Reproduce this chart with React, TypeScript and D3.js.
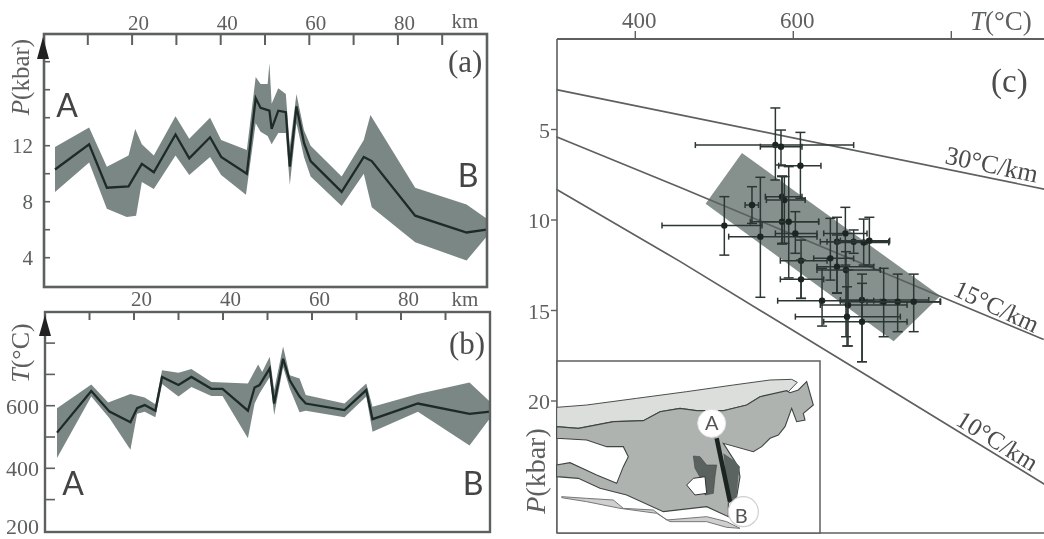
import React from "react";
import * as d3 from "d3";

// Panel (a) pressure profile
const aLineKm = [2.6,10.3,14.3,19.2,22.2,24.9,29.8,32.9,37.6,40.1,45.9,47.9,49.0,51.0,51.5,53.0,54.7,55.6,57.1,58.8,60.3,67.3,72.3,74.1,83.9,95.5,100];
const aLineP = [10.3,12.1,9.0,9.1,10.7,10.1,12.8,11.1,12.6,11.2,10.0,15.4,14.7,14.5,13.2,14.5,14.4,10.5,14.8,12.2,10.9,8.7,11.2,10.9,7.0,5.8,6.0];
const aUpKm = [2.6,10.3,14.3,19.2,20.7,22.2,24.9,29.8,32.9,37.6,40.1,45.9,47.9,49.0,50.6,51.0,51.5,53.0,54.7,55.6,57.1,58.8,60.3,67.3,72.3,73.8,83.9,95.5,100];
const aUpP = [11.9,13.3,10.5,11.3,13.2,12.1,11.3,14.1,12.5,14.0,12.4,11.7,16.9,16.4,16.4,17.9,15.0,16.1,15.7,11.9,15.7,13.1,12.0,9.8,12.4,14.2,9.0,7.8,6.8];
const aLoKm = [2.6,10.3,14.3,18.8,20.9,22.2,24.9,29.8,32.9,37.6,40.1,45.7,47.9,49.0,50.6,51.5,53.0,54.7,55.6,57.1,58.8,60.3,67.3,72.3,74.1,83.9,95.5,100];
const aLoP = [8.7,10.8,7.5,6.9,7.0,9.4,8.9,11.3,9.9,11.2,9.9,8.5,13.6,13.0,12.7,12.1,12.9,12.9,9.2,13.6,11.2,9.8,7.7,10.0,7.6,5.1,3.8,5.5];

// Panel (b) temperature profile
const bLineKm = [2.7,10.4,14.5,19.2,20.7,22.4,24.8,26.3,30.0,32.9,37.4,39.9,45.6,47.1,48.2,50.5,51.5,53.5,55.0,57.2,58.6,67.3,72.2,73.6,83.8,95.4,100];
const bLineT = [514,647,581,547,592,602,584,692,666,692,654,654,584,658,666,719,607,750,681,629,607,586,650,557,607,574,581];
const bUpKm = [2.7,10.4,14.2,19.2,22.4,24.8,26.3,30,32.9,37.4,45.6,47.9,48.8,50.5,51.5,53.5,55,57.2,58.6,67.3,72.2,73.6,83.8,95.4,100];
const bUpT = [592,668,610,637,626,605,713,705,717,676,671,732,708,756,650,789,697,687,634,607,671,597,637,674,613];
const bLoKm = [2.7,10.4,14.5,19.2,20.7,22.4,24.8,26.3,30,32.9,37.4,39.9,45.6,47.1,48.2,50.5,51.5,53.5,55,57.2,58.6,67.3,72.2,73.6,83.8,95.4,100];
const bLoT = [433,629,560,459,574,581,563,669,629,660,631,631,496,607,639,692,570,724,655,579,584,563,629,517,581,473,560];

// Panel (c) P-T estimates
const pT = [577.3,584.4,609,585.7,588.7,547.7,512.7,558.3,585.7,594.2,602.6,609.8,609.8,636.4,646.9,655.3,665.9,676.4,689.1,696.3,655.3,666.7,669.3,668,687,687,714.4,732.1,752.4];
const pTlo = [476,558.3,581.5,564.6,565.9,539,433.8,518.2,545.6,558.3,577.3,583.6,583.6,580.2,625.8,634.2,638.5,642.7,655.3,659.6,630,630,634.2,602.6,659.6,638.5,659.6,693.3,710.2];
const pThi = [676.4,611,635,611,615,556,560.4,630,632.1,632.1,630,642.7,638.5,701.8,676.4,693.3,693.3,720.8,720.8,722,701.8,710.2,744,735.5,771.4,744,786.2,786.2,786.2];
const pP = [5.86,5.95,7.0,8.71,8.9,9.17,10.31,10.92,10.09,10.09,10.74,12.25,13.28,14.46,12.12,11.2,10.74,11.2,11.24,11.14,12.58,12.76,14.7,15.34,14.42,15.62,14.51,14.51,14.51];
const pPlo = [3.81,5.03,5.16,7.57,7.6,8.16,8.71,7.64,7.6,7.05,9.54,11.11,12.21,12.67,9.91,9.85,9.3,10.55,9.95,9.85,10.83,11.75,12.76,13.69,12.99,13.5,12.67,12.99,12.99];
const pPhi = [7.79,6.96,8.8,11.33,11.29,10.19,11.94,14.27,11.29,13.2,11.84,14.33,14.33,15.86,13.32,14.02,12.49,11.84,12.49,12.49,14.05,16.45,16.96,16.96,17.83,17.83,16.45,16.17,16.17];

const bandT = [535,489,727,786];
const bandP = [6.3,9.1,16.7,14.2];
const geo30T = [300,918];
const geo30P = [2.8,8.3];
const geo15T = [300,457,785,917];
const geo15P = [5.4,8.2,14.2,16.6];
const geo10T = [300,457,701,918];
const geo10P = [8.3,12.3,18.8,24.6];

// Inset map outlines, in map units
const mapStrip: [number, number][] = [[110,172],[200,165],[350,145],[500,125],[640,105],[750,90],[815,88],[832,97],[805,125],[720,140],[680,165],[610,182],[530,182],[480,175],[420,185],[370,212],[280,215],[175,235],[110,230]];
const mapMain: [number, number][] = [[110,230],[175,235],[280,215],[370,212],[420,185],[480,175],[530,182],[610,182],[680,165],[720,140],[800,122],[810,128],[835,120],[860,95],[880,165],[850,190],[855,210],[830,215],[815,175],[795,230],[775,255],[750,265],[725,290],[700,305],[610,280],[655,350],[660,380],[650,440],[625,460],[625,500],[560,470],[430,485],[320,435],[240,415],[175,385],[110,380],[110,345],[150,338],[230,375],[290,400],[310,350],[325,320],[310,290],[260,290],[200,270],[110,265]];
const mapHole: [number, number][] = [[500,405],[520,385],[555,380],[560,430],[525,435]];
const mapDark1: [number, number][] = [[520,318],[540,320],[560,345],[590,345],[585,380],[580,430],[555,435],[545,390],[525,355]];
const mapDark2: [number, number][] = [[610,310],[640,330],[660,350],[655,380],[650,440],[625,455]];
const mapTrace: [number, number][] = [[590,265],[630,455]];
const mapCoast: [number, number][] = [[125,440],[200,445],[280,450],[310,475],[400,480],[440,510],[560,500],[620,515],[660,535],[620,532],[560,515],[450,515],[410,490],[300,475],[200,455],[125,443]];
const mapA: [number, number] = [575,220];
const mapB: [number, number] = [670,485];

const kmTicks = d3.range(10, 100, 10);
const kmLabels = [20,40,60,80];
const aTicks = d3.range(4, 20, 2);
const aLabels = [4,8,12];
const bTicks = d3.range(300, 900, 100);
const bLabels = [200,400,600];
const cTempLabels = [400,600];
const cTempTicks = [400,600,800];
const cPLabels = [5,10,15,20];

const INK = "#5c605f";
const BAND = "#7b8784";
const DARK = "#1d2a28";
const SERIF = "'Liberation Serif', serif";
const SANS = "Lato, 'Open Sans', sans-serif";

const xA = d3.scaleLinear().domain([0,100]).range([43.5,486.5]);
const yA = d3.scaleLinear().domain([12,8]).range([145.7,201.7]);
const xB = d3.scaleLinear().domain([0,100]).range([45,490]);
const yB = d3.scaleLinear().domain([600,400]).range([405.7,468.3]);
const xC = d3.scaleLinear().domain([400,600]).range([635.3,793.3]);
const yC = d3.scaleLinear().domain([5,10]).range([129.5,220]);
const xM = d3.scaleLinear().domain([0,930]).range([520,830]);
const yM = d3.scaleLinear().domain([0,567]).range([350,539]);

const zip = (a: number[], b: number[]) => a.map((v, i) => [v, b[i]] as [number, number]);
const bandPath = (kmU: number[], u: number[], kmL: number[], l: number[], x: any, y: any) =>
  d3.line()(zip(kmU, u).concat(zip(kmL, l).reverse()).map(([k, v]) => [x(k), y(v)] as [number, number])) + "Z";
const linePath = (a: number[], b: number[], x: any, y: any) =>
  d3.line()(zip(a, b).map(([k, v]) => [x(k), y(v)] as [number, number])) || "";
const mapPath = (pts: [number, number][], close = true) =>
  (d3.line()(pts.map(([a, b]) => [xM(a), yM(b)] as [number, number])) || "") + (close ? "Z" : "");

const Txt = (p: any) => <text fontFamily={SERIF} fill={INK} {...p} />;

export default function App() {
  const A = { l: 44, t: 34, r: 487, b: 287 };
  const B = { l: 45, t: 312, r: 490, b: 532 };
  const C = { l: 557, t: 39, r: 1044, b: 533 };
  const I = { r: 820, t: 361 };
  return (
    <svg width={1044} height={539} style={{ position: "absolute", left: 0, top: 0, background: "#fff", filter: "blur(0.5px)" }}>
      {/* panel a */}
      <path d={bandPath(aUpKm, aUpP, aLoKm, aLoP, xA, yA)} fill={BAND} />
      <path d={linePath(aLineKm, aLineP, xA, yA)} fill="none" stroke={DARK} strokeWidth={2.3} />
      <rect x={A.l} y={A.t} width={A.r - A.l} height={A.b - A.t} fill="none" stroke={INK} strokeWidth={2.6} />
      {kmTicks.map(k => <line key={k} x1={xA(k)} x2={xA(k)} y1={A.t} y2={A.t + 11} stroke={INK} strokeWidth={2} />)}
      {aTicks.map(v => <line key={v} x1={A.l} x2={A.l + 6} y1={yA(v)} y2={yA(v)} stroke={INK} strokeWidth={1.6} />)}
      {kmLabels.map(k => <Txt key={k} x={xA(k) + 6.5} y={30} fontSize={21} textAnchor="middle">{k}</Txt>)}
      <Txt x={465} y={27.5} fontSize={21} textAnchor="middle">km</Txt>
      {aLabels.map(v => <Txt key={v} x={33} y={yA(v) + 7} fontSize={21} textAnchor="end">{v}</Txt>)}
      <path d={d3.line()([[43,37],[49,59],[37,59]]) + "Z"} fill="#222" />
      <Txt transform="translate(29,77) rotate(-90)" fontSize={25} textAnchor="middle"><tspan fontStyle="italic">P</tspan>(kbar)</Txt>
      <Txt x={448} y={72} fontSize={31} fill="#4a4d4c">(a)</Txt>
      <text x={67} y={117} fontFamily={SANS} fontSize={32} fill="#444" textAnchor="middle">A</text>
      <text x={468} y={187} fontFamily={SANS} fontSize={32} fill="#444" textAnchor="middle">B</text>

      {/* panel b */}
      <path d={bandPath(bUpKm, bUpT, bLoKm, bLoT, xB, yB)} fill={BAND} />
      <path d={linePath(bLineKm, bLineT, xB, yB)} fill="none" stroke={DARK} strokeWidth={2.3} />
      <rect x={B.l} y={B.t} width={B.r - B.l} height={B.b - B.t} fill="none" stroke={INK} strokeWidth={2.4} />
      {kmTicks.map(k => <line key={k} x1={xB(k)} x2={xB(k)} y1={B.t} y2={B.t + 8} stroke={INK} strokeWidth={2} />)}
      {bTicks.map(v => <line key={v} x1={B.l} x2={B.l + 10} y1={yB(v)} y2={yB(v)} stroke={INK} strokeWidth={1.6} />)}
      {kmLabels.map(k => <Txt key={k} x={xB(k) + 7.5} y={306} fontSize={21} textAnchor="middle">{k}</Txt>)}
      <Txt x={465} y={306} fontSize={21} textAnchor="middle">km</Txt>
      {bLabels.map(v => <Txt key={v} x={39} y={Math.min(yB(v) + 8, 533.5)} fontSize={22} textAnchor="end">{v}</Txt>)}
      <path d={d3.line()([[45,315],[51,336],[39,336]]) + "Z"} fill="#222" />
      <Txt transform="translate(29,353) rotate(-90)" fontSize={26} textAnchor="middle"><tspan fontStyle="italic">T</tspan>(°C)</Txt>
      <Txt x={449} y={354} fontSize={31} fill="#4a4d4c">(b)</Txt>
      <text x={73} y={495} fontFamily={SANS} fontSize={32} fill="#444" textAnchor="middle">A</text>
      <text x={473} y={495} fontFamily={SANS} fontSize={32} fill="#444" textAnchor="middle">B</text>

      {/* panel c */}
      <line x1={C.l} x2={C.r} y1={C.t} y2={C.t} stroke={INK} strokeWidth={2} />
      <line x1={C.l} x2={C.l} y1={C.t} y2={C.b} stroke={INK} strokeWidth={1.6} />
      <line x1={C.l} x2={C.r} y1={C.b} y2={C.b} stroke={INK} strokeWidth={1.4} />
      {cTempTicks.map(t => <line key={t} x1={xC(t)} x2={xC(t)} y1={C.t} y2={C.t - 8} stroke={INK} strokeWidth={1.4} />)}
      {cTempLabels.map(t => <Txt key={t} x={xC(t) + 4} y={28} fontSize={23} textAnchor="middle">{t}</Txt>)}
      <Txt x={970} y={30} fontSize={27}><tspan fontStyle="italic">T</tspan>(°C)</Txt>
      {cPLabels.map(p => <g key={p}>
        <line x1={C.l - 6} x2={C.l} y1={yC(p)} y2={yC(p)} stroke={INK} strokeWidth={1.4} />
        <Txt x={C.l - 7} y={yC(p) + 8} fontSize={22} textAnchor="end">{p}</Txt>
      </g>)}
      <Txt x={991} y={92} fontSize={33} fill="#4a4d4c">(c)</Txt>
      <path d={linePath(bandT, bandP, xC, yC) + "Z"} fill="#86918e" />
      {[[geo30T, geo30P], [geo15T, geo15P], [geo10T, geo10P]].map(([a, b], i) =>
        <path key={i} d={linePath(a, b, xC, yC)} fill="none" stroke={INK} strokeWidth={1.7} />)}
      <Txt transform="translate(990,173) rotate(12)" fontSize={26} textAnchor="middle" fill="#4a4d4c">30°C/km</Txt>
      <Txt transform="translate(993,314) rotate(25)" fontSize={25} textAnchor="middle" fill="#4a4d4c">15°C/km</Txt>
      <Txt transform="translate(993,448) rotate(32)" fontSize={25} textAnchor="middle" fill="#4a4d4c">10°C/km</Txt>
      {pT.map((t, i) => <g key={i} stroke="#2c3634" strokeWidth={1.5}>
        <line x1={xC(pTlo[i])} x2={xC(pThi[i])} y1={yC(pP[i])} y2={yC(pP[i])} />
        <line x1={xC(t)} x2={xC(t)} y1={yC(pPlo[i])} y2={yC(pPhi[i])} />
        <line x1={xC(pTlo[i])} x2={xC(pTlo[i])} y1={yC(pP[i]) - 3} y2={yC(pP[i]) + 3} />
        <line x1={xC(pThi[i])} x2={xC(pThi[i])} y1={yC(pP[i]) - 3} y2={yC(pP[i]) + 3} />
        <line x1={xC(t) - 5} x2={xC(t) + 5} y1={yC(pPlo[i])} y2={yC(pPlo[i])} />
        <line x1={xC(t) - 5} x2={xC(t) + 5} y1={yC(pPhi[i])} y2={yC(pPhi[i])} />
        <circle cx={xC(t)} cy={yC(pP[i])} r={3.2} fill="#1d2523" stroke="none" />
      </g>)}

      {/* inset */}
      <rect x={C.l} y={I.t} width={I.r - C.l} height={C.b - I.t} fill="#fff" stroke={INK} strokeWidth={1.5} />
      <path d={mapPath(mapStrip)} fill="#dcdedb" stroke="#4a4f4d" strokeWidth={1} />
      <path d={mapPath(mapCoast)} fill="#cdd0ce" stroke="#777" strokeWidth={1} />
      <path d={mapPath(mapMain)} fill="#afb3b0" stroke="#3f4543" strokeWidth={1.1} />
      <path d={mapPath(mapDark2)} fill="#5c6462" />
      <path d={mapPath(mapDark1)} fill="#5a6260" stroke="#444" strokeWidth={0.6} />
      <path d={mapPath(mapHole)} fill="#fff" stroke="#333" strokeWidth={1} />
      <path d={mapPath(mapTrace, false)} fill="none" stroke="#1c2422" strokeWidth={4.5} />
      <circle cx={xM(mapA[0])} cy={yM(mapA[1])} r={14} fill="#fff" stroke="#e3e3e3" strokeWidth={1} />
      <circle cx={xM(mapB[0])} cy={yM(mapB[1])} r={15} fill="#fff" stroke="#cfcfcf" strokeWidth={1.2} />
      <text x={xM(mapA[0])} y={yM(mapA[1]) + 7} fontFamily={SANS} fontSize={20} fill="#555" textAnchor="middle">A</text>
      <text x={xM(mapB[0]) - 2} y={yM(mapB[1]) + 11} fontFamily={SANS} fontSize={20} fill="#555" textAnchor="middle">B</text>
      <Txt transform="translate(545,471) rotate(-90)" fontSize={28} textAnchor="middle"><tspan fontStyle="italic">P</tspan>(kbar)</Txt>
    </svg>
  );
}
